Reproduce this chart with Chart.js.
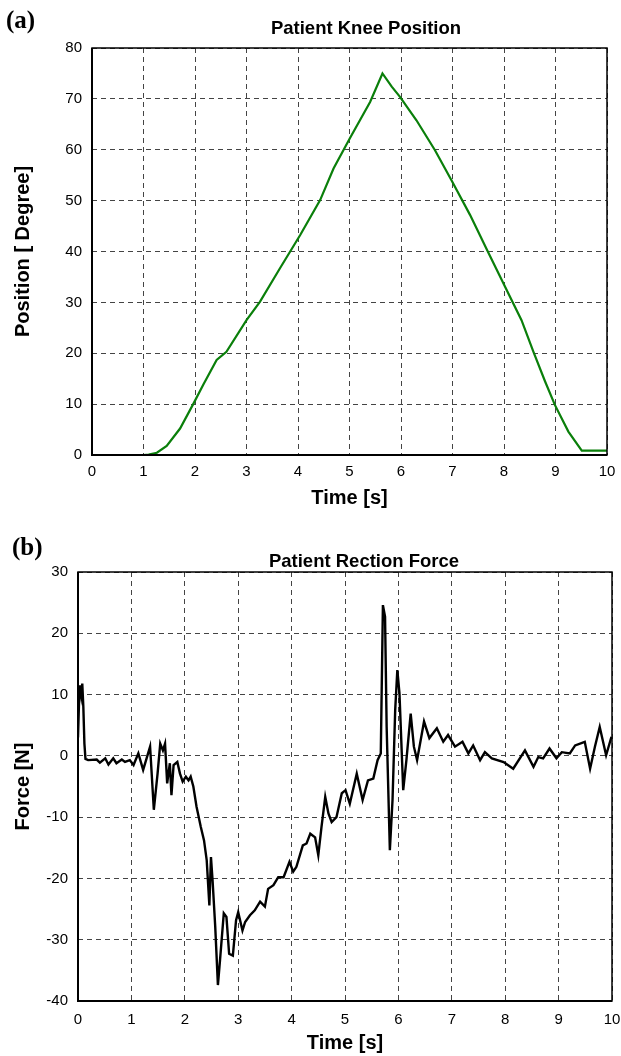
<!DOCTYPE html>
<html>
<head>
<meta charset="utf-8">
<script src="https://cdn.jsdelivr.net/npm/chart.js@4"></script>
<style>
  body { margin: 0; background: #fff; }
  .panel { position: absolute; left: 0; }
</style>
</head>
<body>
<div class="panel" style="top:0"><canvas id="kneeChart" width="621" height="520"></canvas></div>
<div class="panel" style="top:520px"><canvas id="forceChart" width="621" height="536"></canvas></div>
<script>
// (a) knee position
const kneeTime = [0, 1.0, 1.1, 1.26, 1.45, 1.71, 1.97, 2.16, 2.42, 2.61, 3.0, 3.26, 3.65, 4.04, 4.43, 4.69,
  5.01, 5.40, 5.64, 5.82, 5.98, 6.30, 6.66, 6.98, 7.34, 7.69, 7.99, 8.34, 8.57, 8.80, 8.99, 9.25, 9.51, 10];
const kneeAngle = [0, 0, 0.1, 0.45, 1.8, 5.2, 10.1, 13.8, 18.7, 20.3, 26.5, 30.1, 36.7, 43.2, 50.1, 56.3,
  62.3, 69.4, 75.0, 72.4, 70.4, 65.8, 59.9, 54.0, 47.2, 39.9, 33.7, 26.5, 20.3, 14.4, 9.8, 4.6, 0.85, 0.85];

// (b) reaction force
const forceTime = [0, 0.02, 0.04, 0.06, 0.08, 0.1, 0.12, 0.14, 0.19, 0.35, 0.41, 0.51, 0.57, 0.66, 0.72, 0.82,
  0.88, 0.97, 1.04, 1.13, 1.22, 1.35, 1.42, 1.49, 1.54, 1.59, 1.63, 1.67, 1.72, 1.75, 1.79, 1.86, 1.91, 1.96,
  2.02, 2.07, 2.11, 2.16, 2.22, 2.30, 2.36, 2.41, 2.46, 2.49, 2.52, 2.57, 2.62, 2.66, 2.73, 2.78, 2.83, 2.90,
  2.96, 3.00, 3.08, 3.13, 3.22, 3.31, 3.41, 3.50, 3.56, 3.66, 3.75, 3.85, 3.96, 4.03, 4.09, 4.21, 4.28, 4.35,
  4.44, 4.50, 4.56, 4.63, 4.69, 4.75, 4.84, 4.94, 5.01, 5.09, 5.22, 5.33, 5.43, 5.53, 5.61, 5.67, 5.71, 5.75,
  5.78, 5.84, 5.89, 5.94, 5.98, 6.02, 6.09, 6.15, 6.23, 6.29, 6.35, 6.48, 6.58, 6.72, 6.84, 6.93, 7.06, 7.20,
  7.31, 7.40, 7.53, 7.62, 7.75, 7.97, 8.15, 8.37, 8.53, 8.62, 8.71, 8.83, 8.96, 9.06, 9.21, 9.31, 9.49, 9.59,
  9.68, 9.77, 9.89, 9.99];
const forceValue = [3, 9, 11.5, 10, 11.8, 8, 2, -0.5, -0.7, -0.6, -1.1, -0.4, -1.4, -0.4, -1.2, -0.6,
  -1.0, -0.7, -1.5, 0.4, -2.3, 1.5, -8.8, -2.9, 2.0, 0.9, 2.0, -4.5, -1.2, -6.4, -1.5, -1.0, -2.9, -4.2,
  -3.4, -4.0, -3.4, -5.0, -8.3, -11.6, -13.8, -17.0, -24.4, -16.5, -20.3, -27.9, -37.4, -33.3, -25.7, -26.3, -32.3, -32.6,
  -26.8, -25.5, -28.5, -27.1, -26.0, -25.2, -23.8, -24.6, -21.7, -21.1, -19.8, -19.8, -17.3, -18.9, -18.1, -14.6, -14.3, -12.7,
  -13.3, -16.2, -11.6, -6.7, -9.4, -10.8, -10.0, -6.1, -5.6, -7.8, -2.9, -7.2, -4.0, -3.7, -0.7, 0.4, 24.6, 22.7,
  4.7, -15.4, -7.2, 7.5, 14.0, 10.2, -5.6, -0.7, 6.9, 1.5, -0.7, 5.6, 2.9, 4.5, 2.3, 3.4, 1.5, 2.3,
  0.4, 1.7, -0.7, 0.6, -0.4, -1.0, -2.1, 0.9, -1.8, -0.2, -0.4, 1.2, -0.4, 0.6, 0.4, 1.7, 2.3, -2.1,
  1.5, 4.7, 0.1, 3.1];

const sans = '"Liberation Sans", Arial, sans-serif';

// frame + panel letter + title drawn on top
const framePlugin = {
  id: 'frame',
  afterDraw(chart, args, opts) {
    const { ctx, chartArea: a } = chart;
    ctx.save();
    ctx.strokeStyle = '#000';
    ctx.lineWidth = 1.5;
    ctx.strokeRect(a.left, a.top, a.right - a.left, a.bottom - a.top);
    ctx.lineWidth = 2;
    ctx.beginPath();
    ctx.moveTo(a.left, a.top);
    ctx.lineTo(a.left, a.bottom);
    ctx.lineTo(a.right, a.bottom);
    ctx.stroke();
    ctx.fillStyle = '#000';
    ctx.textBaseline = 'middle';
    ctx.textAlign = 'left';
    ctx.font = 'bold 25px "Liberation Serif", "Times New Roman", serif';
    ctx.fillText(opts.letter, opts.letterX, opts.letterY);
    ctx.textAlign = 'center';
    ctx.font = 'bold 18.5px ' + sans;
    ctx.fillText(opts.title, opts.titleX, opts.titleY);
    ctx.restore();
  }
};

function makeScales(ymin, ymax, ytitle, yWidth, xHeight, xPad, xTitlePad) {
  const grid = { color: '#444', lineWidth: 1, drawTicks: false };
  const border = { display: false, dash: [5, 4] };
  return {
    x: {
      type: 'linear', min: 0, max: 10,
      grid: grid, border: border,
      ticks: { stepSize: 1, maxRotation: 0, color: '#000', padding: xPad, font: { family: sans, size: 15 } },
      title: { display: true, text: 'Time [s]', color: '#000', padding: { top: 0, bottom: xTitlePad },
        font: { family: sans, size: 20, weight: 'bold' } },
      afterFit(s) { s.height = xHeight; s.paddingLeft = 0; s.paddingRight = 0; }
    },
    y: {
      min: ymin, max: ymax,
      grid: grid, border: border,
      ticks: { stepSize: 10, color: '#000', padding: 10, font: { family: sans, size: 15 } },
      title: { display: true, text: ytitle, color: '#000', padding: { top: 11, bottom: 0 },
        font: { family: sans, size: 20, weight: 'bold' } },
      afterFit(s) { s.width = yWidth; s.paddingTop = 0; s.paddingBottom = 0; }
    }
  };
}

new Chart(document.getElementById('kneeChart'), {
  type: 'line',
  data: {
    datasets: [{
      data: kneeTime.map((t, i) => ({ x: t, y: kneeAngle[i] })),
      borderColor: '#0a7f0a', borderWidth: 2.2, pointRadius: 0, tension: 0
    }]
  },
  options: {
    responsive: false, animation: false,
    layout: { padding: { top: 48, right: 14, left: 0, bottom: 0 } },
    plugins: {
      legend: { display: false }, tooltip: { enabled: false },
      frame: { letter: '(a)', letterX: 6, letterY: 22, title: 'Patient Knee Position', titleX: 366, titleY: 29 }
    },
    scales: makeScales(0, 80, 'Position [ Degree]', 92, 65, 8, 10)
  },
  plugins: [framePlugin]
});

new Chart(document.getElementById('forceChart'), {
  type: 'line',
  data: {
    datasets: [{
      data: forceTime.map((t, i) => ({ x: t, y: forceValue[i] })),
      borderColor: '#000', borderWidth: 2.4, pointRadius: 0, tension: 0
    }]
  },
  options: {
    responsive: false, animation: false,
    layout: { padding: { top: 52, right: 9, left: 0, bottom: 0 } },
    plugins: {
      legend: { display: false }, tooltip: { enabled: false },
      frame: { letter: '(b)', letterX: 12, letterY: 29, title: 'Patient Rection Force', titleX: 364, titleY: 42 }
    },
    scales: makeScales(-40, 30, 'Force [N]', 78, 55, 10, 1)
  },
  plugins: [framePlugin]
});
</script>
</body>
</html>
